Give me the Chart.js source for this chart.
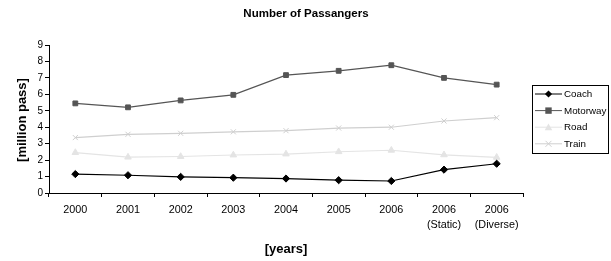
<!DOCTYPE html>
<html>
<head>
<meta charset="utf-8">
<script src="https://cdn.jsdelivr.net/npm/chart.js@4/dist/chart.umd.min.js"></script>
<style>
html,body{margin:0;padding:0;background:#fff;}
#wrap{width:611px;height:261px;position:relative;}
</style>
</head>
<body>
<div id="wrap"><canvas id="c" width="611" height="261"></canvas></div>
<script>
const categories = ['2000','2001','2002','2003','2004','2005','2006',['2006','(Static)'],['2006','(Diverse)']];
const coach    = [1.15, 1.08, 0.98, 0.93, 0.88, 0.78, 0.73, 1.42, 1.78];
const motorway = [5.45, 5.21, 5.63, 5.97, 7.17, 7.43, 7.77, 7.0, 6.59];
const road     = [2.46, 2.18, 2.22, 2.31, 2.37, 2.51, 2.6, 2.32, 2.17];
const train    = [3.37, 3.57, 3.63, 3.72, 3.79, 3.95, 4.0, 4.38, 4.58];
const yTicks   = [0,1,2,3,4,5,6,7,8,9];

const FONT = "'Liberation Sans', Arial, sans-serif";

function marker(ctx, style, x, y, color) {
  ctx.save();
  ctx.fillStyle = color; ctx.strokeStyle = color; ctx.lineWidth = 1;
  ctx.beginPath();
  if (style === 'rectRot') {
    const r = 3.6;
    ctx.moveTo(x, y - r); ctx.lineTo(x + r, y); ctx.lineTo(x, y + r); ctx.lineTo(x - r, y); ctx.closePath(); ctx.fill();
  } else if (style === 'rect') {
    ctx.rect(x - 3.2, y - 3.2, 6.4, 6.4); ctx.fill();
  } else if (style === 'triangle') {
    ctx.moveTo(x, y - 3.8); ctx.lineTo(x + 3.8, y + 3); ctx.lineTo(x - 3.8, y + 3); ctx.closePath(); ctx.fill();
  } else if (style === 'crossRot') {
    ctx.moveTo(x - 3, y - 3); ctx.lineTo(x + 3, y + 3); ctx.moveTo(x + 3, y - 3); ctx.lineTo(x - 3, y + 3); ctx.stroke();
  }
  ctx.restore();
}

const decor = {
  id: 'decor',
  afterDraw(chart) {
    const ctx = chart.ctx;
    const ca = chart.chartArea;
    ctx.save();
    ctx.fillStyle = '#000';
    ctx.textAlign = 'center';
    ctx.textBaseline = 'middle';
    ctx.font = "bold 11.5px " + FONT;
    ctx.fillText('Number of Passangers', 306, 14);
    ctx.font = "bold 13px " + FONT;
    ctx.fillText('[years]', (ca.left + ca.right) / 2, 249);
    ctx.save();
    ctx.translate(22, 120);
    ctx.rotate(-Math.PI / 2);
    ctx.fillText('[million pass]', 0, 0);
    ctx.restore();
    // legend
    const lx = 532.5, ly = 85.5, lw = 76, lh = 68;
    ctx.strokeStyle = '#000'; ctx.lineWidth = 1;
    ctx.strokeRect(lx, ly, lw, lh);
    ctx.textAlign = 'left';
    ctx.font = "9.8px " + FONT;
    chart.data.datasets.forEach((ds, i) => {
      const y = 94 + i * 16.6;
      ctx.strokeStyle = ds.borderColor; ctx.lineWidth = 1;
      ctx.beginPath(); ctx.moveTo(535, y); ctx.lineTo(562, y); ctx.stroke();
      marker(ctx, ds.pointStyle, 548.5, y, ds.pointBackgroundColor);
      ctx.fillStyle = '#000';
      ctx.fillText(ds.label, 564, y + 0.5);
    });
    ctx.restore();
  }
};

function ds(label, data, color, style, radius) {
  return {
    label, data,
    borderColor: color, backgroundColor: color,
    pointBackgroundColor: color, pointBorderColor: color,
    pointStyle: style, pointRadius: radius, pointHoverRadius: radius,
    pointBorderWidth: 1,
    borderWidth: 1.2, tension: 0
  };
}

new Chart(document.getElementById('c'), {
  type: 'line',
  data: {
    labels: categories,
    datasets: [
      ds('Coach', coach, '#000000', 'rectRot', 3.6),
      ds('Motorway', motorway, '#555555', 'rect', 3.4),
      ds('Road', road, '#e4e4e4', 'triangle', 3.8),
      ds('Train', train, '#cfcfcf', 'crossRot', 3.6)
    ]
  },
  options: {
    responsive: false,
    animation: false,
    layout: { padding: { left: 0, top: 45, right: 88, bottom: 0 } },
    plugins: { legend: { display: false }, title: { display: false }, tooltip: { enabled: false } },
    scales: {
      x: {
        type: 'category',
        offset: true,
        grid: { offset: true, drawOnChartArea: false, color: '#000', tickLength: 4, tickColor: '#000' },
        border: { color: '#000', width: 1 },
        ticks: { color: '#000', font: { family: FONT, size: 10.8, lineHeight: 1.35 }, maxRotation: 0, autoSkip: false, padding: 6 },
        afterFit(s) { s.height = 68; }
      },
      y: {
        min: 0, max: 9,
        afterBuildTicks(s) { s.ticks = yTicks.map(v => ({ value: v })); },
        grid: { drawOnChartArea: false, color: '#000', tickLength: 4, tickColor: '#000' },
        border: { color: '#000', width: 1 },
        ticks: { color: '#000', font: { family: FONT, size: 10 }, padding: 2 },
        afterFit(s) { s.width = 49; }
      }
    }
  },
  plugins: [decor]
});
</script>
</body>
</html>
